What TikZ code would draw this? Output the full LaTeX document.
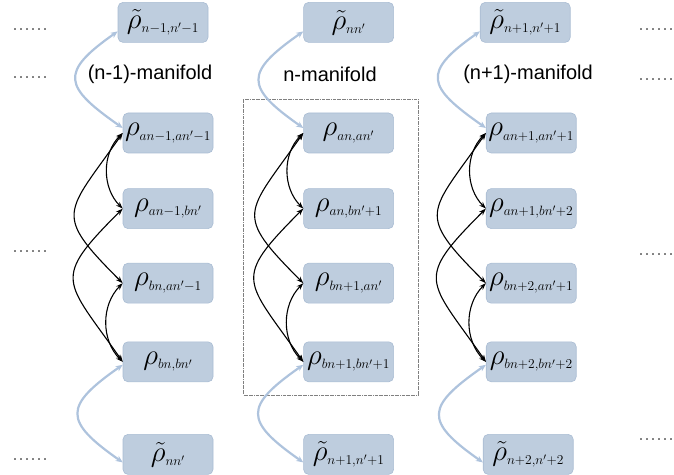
\RequirePackage{fix-cm}
\documentclass[tikz,border=0pt]{standalone}
\usepackage{fontspec}
\setsansfont{Liberation Sans}
\usetikzlibrary{arrows.meta,positioning}
\definecolor{BoxFill}{HTML}{BECDDE}
\definecolor{BoxEdge}{HTML}{A9BCD3}
\definecolor{LiftBlue}{HTML}{AEC3DD}
\DeclareMathSizes{29}{29}{13.5}{10}

\begin{document}
\begin{tikzpicture}[x=1pt,y=1pt,
  box/.style={draw=BoxEdge,line width=0.6pt,fill=BoxFill,rounded corners=5pt,minimum width=90pt,minimum height=40pt,inner sep=1.5pt,font=\fontsize{29}{30}\selectfont},
  lbl/.style={font=\sffamily\fontsize{20}{24}\selectfont},
  dots/.style={font=\fontsize{24}{24}\selectfont,text=black!70,anchor=west,inner sep=0pt},
  link/.style={{Stealth[length=7pt,width=5pt]}-{Stealth[length=7pt,width=5pt]},line width=1.1pt},
  lift/.style={{Stealth[length=7pt,width=6pt]}-{Stealth[length=7pt,width=6pt]},LiftBlue,line width=2.2pt}]
  \useasboundingbox (0,0) rectangle (674,474);
  % (n-1)-manifold
  \node[box] (aa1) at (168,341) {$\rho_{an-1,an'-1}$};
  \node[box,below=35pt of aa1] (ab1) {$\rho_{an-1,bn'}$};
  \node[box,below=34pt of ab1] (ba1) {$\rho_{bn,an'-1}$};
  \node[box,below=38pt of ba1] (bb1) {$\rho_{bn,bn'}$};
  \node[box,above=70pt of aa1,xshift=-5pt] (top1) {$\tilde{\rho}_{n-1,n'-1}$};
  \node[box,below=52pt of bb1] (bot1) {$\tilde{\rho}_{nn'}$};
  % n-manifold
  \node[box,right=90pt of aa1] (aa2) {$\rho_{an,an'}$};
  \node[box,below=35pt of aa2] (ab2) {$\rho_{an,bn'+1}$};
  \node[box,below=34pt of ab2] (ba2) {$\rho_{bn+1,an'}$};
  \node[box,below=38pt of ba2] (bb2) {$\rho_{bn+1,bn'+1}$};
  \node[box,above=70pt of aa2] (top2) {$\tilde{\rho}_{nn'}$};
  \node[box,below=52pt of bb2] (bot2) {$\tilde{\rho}_{n+1,n'+1}$};
  % (n+1)-manifold
  \node[box,right=92pt of aa2] (aa3) {$\rho_{an+1,an'+1}$};
  \node[box,below=35pt of aa3] (ab3) {$\rho_{an+1,bn'+2}$};
  \node[box,below=34pt of ab3] (ba3) {$\rho_{bn+2,an'+1}$};
  \node[box,below=38pt of ba3] (bb3) {$\rho_{bn+2,bn'+2}$};
  \node[box,above=70pt of aa3,xshift=-6pt] (top3) {$\tilde{\rho}_{n+1,n'+1}$};
  \node[box,below=52pt of bb3,xshift=-3pt] (bot3) {$\tilde{\rho}_{n+2,n'+2}$};

  \node[lbl] (m1) at (150,400) {(n-1)-manifold};
  \node[lbl] (m2) at (330,400) {n-manifold};
  \node[lbl] (m3) at (528,400) {(n+1)-manifold};

  \node[dots] (l1) at (12,444) {......};
  \node[dots] (l2) at (12,396) {......};
  \node[dots] (l3) at (12,222) {......};
  \node[dots] (l4) at (12,14) {......};
  \node[dots] (r1) at (638,444) {......};
  \node[dots] (r2) at (638,394) {......};
  \node[dots] (r3) at (638,219) {......};
  \node[dots] (r4) at (638,34) {......};

  \draw[gray,densely dashdotted,line width=0.5pt] ([xshift=-60pt,yshift=13pt]aa2.north west) rectangle ([xshift=24pt,yshift=-13pt]bb2.south east);

  \draw[lift] ([yshift=-9pt]top1.west) to[out=215,in=145,looseness=1.9] ([yshift=5pt]aa1.west);
  \draw[lift] ([yshift=-3pt]bb1.west) to[out=215,in=145,looseness=1.9] ([yshift=-8pt]bot1.west);
  \draw[link] (aa1.west) to[bend right=45] (ab1.west);
  \draw[link] (ba1.west) to[bend right=45] (bb1.west);
  \draw[link] (aa1.west) to[out=235,in=135,looseness=1.7] (ba1.west);
  \draw[link] (bb1.west) to[out=125,in=225,looseness=1.7] (ab1.west);

  \draw[lift] ([yshift=-9pt]top2.west) to[out=215,in=145,looseness=1.9] ([yshift=5pt]aa2.west);
  \draw[lift] ([yshift=-3pt]bb2.west) to[out=215,in=145,looseness=1.9] ([yshift=-8pt]bot2.west);
  \draw[link] (aa2.west) to[bend right=45] (ab2.west);
  \draw[link] (ba2.west) to[bend right=45] (bb2.west);
  \draw[link] (aa2.west) to[out=235,in=135,looseness=1.7] (ba2.west);
  \draw[link] (bb2.west) to[out=125,in=225,looseness=1.7] (ab2.west);

  \draw[lift] ([yshift=-9pt]top3.west) to[out=215,in=145,looseness=1.9] ([yshift=5pt]aa3.west);
  \draw[lift] ([yshift=-3pt]bb3.west) to[out=215,in=145,looseness=1.9] ([yshift=-8pt]bot3.west);
  \draw[link] (aa3.west) to[bend right=45] (ab3.west);
  \draw[link] (ba3.west) to[bend right=45] (bb3.west);
  \draw[link] (aa3.west) to[out=235,in=135,looseness=1.7] (ba3.west);
  \draw[link] (bb3.west) to[out=125,in=225,looseness=1.7] (ab3.west);
\end{tikzpicture}
\end{document}
